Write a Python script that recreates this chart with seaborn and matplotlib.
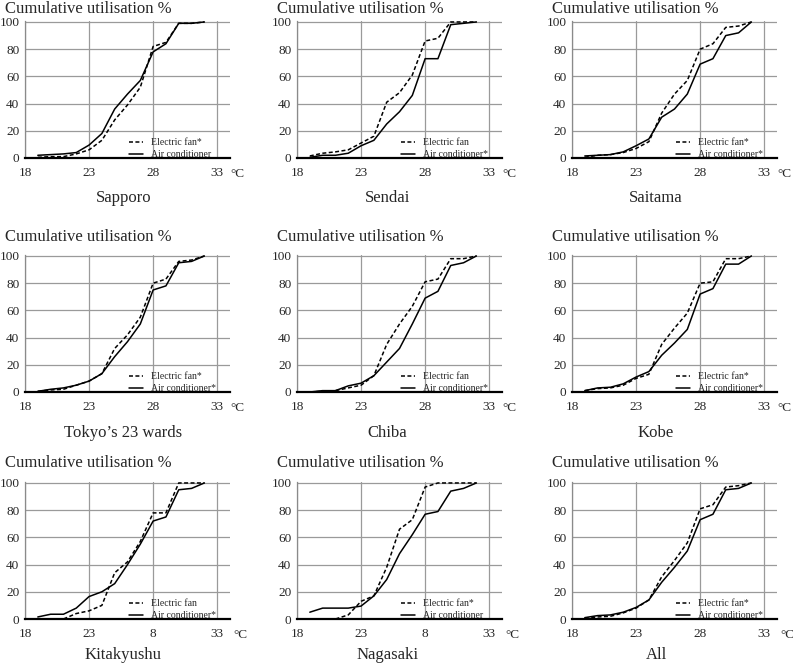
import matplotlib
matplotlib.use("Agg")
import pandas as pd
import matplotlib.pyplot as plt
from matplotlib.transforms import offset_copy
import seaborn as sns

# temperature steps (deg C) where the curves have their knots
temps = list(range(19, 33))

cities = ["Sapporo", "Sendai", "Saitama",
          "Tokyo\u2019s 23 wards", "Chiba", "Kobe",
          "Kitakyushu", "Nagasaki", "All"]

# cumulative utilisation %
fan_sapporo = [0.5, 1, 1, 3, 6, 13, 28, 39, 52, 82, 85, 99, 99, 100]
ac_sapporo = [2, 2.5, 3, 4, 9.5, 18, 36, 47, 57, 78, 84, 99, 99, 100]
fan_sendai = [1.5, 3.5, 4.5, 6, 11, 16, 41, 48, 61, 86, 88, 100, 100, 100]
ac_sendai = [0.5, 2, 2, 3.5, 9, 13, 25, 34, 46, 73, 73, 98, 99, 100]
fan_saitama = [0.5, 2, 2.5, 4, 7, 12, 33, 47, 57, 80, 84, 96, 97, 100]
ac_saitama = [1.5, 2, 2.5, 4.5, 9, 14, 30, 36, 47, 69, 73, 90, 92, 100]
fan_tokyo = [0.5, 1.5, 2, 5, 8, 13.5, 32, 42, 55, 80, 83, 96, 97, 100]
ac_tokyo = [0.5, 2, 3, 5, 8, 13.5, 26, 37, 50, 75, 78, 95, 96, 100]
fan_chiba = [0, 0.5, 1, 3, 5, 12, 35, 50, 63, 81, 83, 98, 98, 100]
ac_chiba = [0, 1, 1, 4.5, 6.5, 12, 22, 32, 50, 69, 74, 93, 95, 100]
fan_kobe = [1, 2.5, 3, 5, 10, 13, 35, 47, 58, 80, 81, 98, 98, 100]
ac_kobe = [1, 3, 3.5, 6, 11, 15, 27, 36, 46, 72, 76, 94, 94, 100]
fan_kitakyushu = [0, 0, 0, 4, 6, 10, 34, 42, 57, 78, 78, 100, 100, 100]
ac_kitakyushu = [1.5, 3.5, 3.5, 8, 16.5, 20, 26, 40, 55, 72, 75, 95, 96, 100]
fan_nagasaki = [0, 0, 0, 3, 13, 17, 38, 66, 73, 97, 100, 100, 100, 100]
ac_nagasaki = [5, 8, 8, 8, 9.5, 17, 29, 48, 62, 77, 79, 94, 96, 100]
fan_all = [0.5, 1.5, 2, 4.5, 8, 14, 31, 43, 56, 81, 84, 97, 98, 100]
ac_all = [1, 2.5, 3, 5, 8.5, 14, 27, 38, 50, 73, 77, 95, 96, 100]

fan_series = [fan_sapporo, fan_sendai, fan_saitama, fan_tokyo, fan_chiba,
              fan_kobe, fan_kitakyushu, fan_nagasaki, fan_all]
ac_series = [ac_sapporo, ac_sendai, ac_saitama, ac_tokyo, ac_chiba,
             ac_kobe, ac_kitakyushu, ac_nagasaki, ac_all]

fan_labels = ["Electric fan*", "Electric fan", "Electric fan*",
              "Electric fan*", "Electric fan", "Electric fan*",
              "Electric fan", "Electric fan*", "Electric fan*"]
ac_labels = ["Air conditioner", "Air conditioner*", "Air conditioner*",
             "Air conditioner*", "Air conditioner*", "Air conditioner*",
             "Air conditioner*", "Air conditioner", "Air conditioner*"]

x_ticks = [18, 23, 28, 33]
x_ticklabels = [["18", "23", "28", "33"]] * 6 + [["18", "23", "8", "33"]] * 2 + [["18", "23", "28", "33"]]
y_ticks = [0, 20, 40, 60, 80, 100]

rows = []
for city, f, a in zip(cities, fan_series, ac_series):
    for t, v in zip(temps, f):
        rows.append({"city": city, "temp": t, "pct": v, "appliance": "fan"})
    for t, v in zip(temps, a):
        rows.append({"city": city, "temp": t, "pct": v, "appliance": "ac"})
df = pd.DataFrame(rows)

sns.set_style("white")
plt.rcParams["font.family"] = ["Liberation Serif", "DejaVu Serif"]

W, H = 793, 663
fig = plt.figure(figsize=(W / 100, H / 100), dpi=100)

col_left = [25, 297, 572]
row_bottom = [158, 392, 619]
title_off = [13, 19, 20]
name_off = [40, 41, 36]
name_frac = [0.48, 0.44, 0.41]
ax_w, ax_h = 205, 137.4
top_px = 136  # pixels from y=0 to y=100

for i, city in enumerate(cities):
    r, c = divmod(i, 3)
    l = col_left[c] / W
    b = 1 - row_bottom[r] / H
    ax = fig.add_axes([l, b, ax_w / W, ax_h / H])

    sub = df[df.city == city]
    sns.lineplot(data=sub, x="temp", y="pct", style="appliance",
                 style_order=["fan", "ac"],
                 dashes={"fan": (2.6, 1.6), "ac": ""},
                 color="black", lw=1.1, ax=ax, legend=False)

    ax.set_xlim(18, 34)
    ax.set_ylim(0, 101)
    ax.set_xticks(x_ticks)
    ax.set_xticklabels(x_ticklabels[i])
    ax.set_yticks(y_ticks)
    ax.set_xlabel("")
    ax.set_ylabel("")
    ax.grid(True, color="#9a9a9a", lw=0.9)
    ax.set_axisbelow(True)
    ax.tick_params(length=0, labelsize=9.5)
    ax.tick_params(axis="x", pad=6.5)
    ax.tick_params(axis="y", pad=4)
    for s in ["top", "right"]:
        ax.spines[s].set_visible(False)
    ax.spines["left"].set_color("#8a8a8a")
    ax.spines["left"].set_linewidth(0.9)
    ax.spines["bottom"].set_color("black")
    ax.spines["bottom"].set_linewidth(1.6)

    # degree sign next to the last tick label
    unit_x = 34.25 if r == 2 else 34.0
    ax.text(unit_x, 0, "\u00b0C", ha="left", va="center", fontsize=9.5,
            transform=offset_copy(ax.transData, fig=fig, y=-16, units="dots"),
            clip_on=False)

    lines = ax.get_lines()
    ax.legend(lines[:2], [fan_labels[i], ac_labels[i]],
              loc="lower left", bbox_to_anchor=(26.1, -1.0),
              bbox_transform=ax.transData, frameon=False, fontsize=7,
              handlelength=1.5, handletextpad=0.8, borderpad=0,
              borderaxespad=0, labelspacing=0.3)

    x0 = col_left[c]
    fig.text((x0 - 20) / W, 1 - (row_bottom[r] - top_px - title_off[r]) / H,
             "Cumulative utilisation %", fontsize=12, ha="left", va="center")
    fig.text((x0 + name_frac[c] * ax_w) / W, 1 - (row_bottom[r] + name_off[r]) / H,
             city, fontsize=12, ha="center", va="center")

fig.savefig("out.png", dpi=100)
